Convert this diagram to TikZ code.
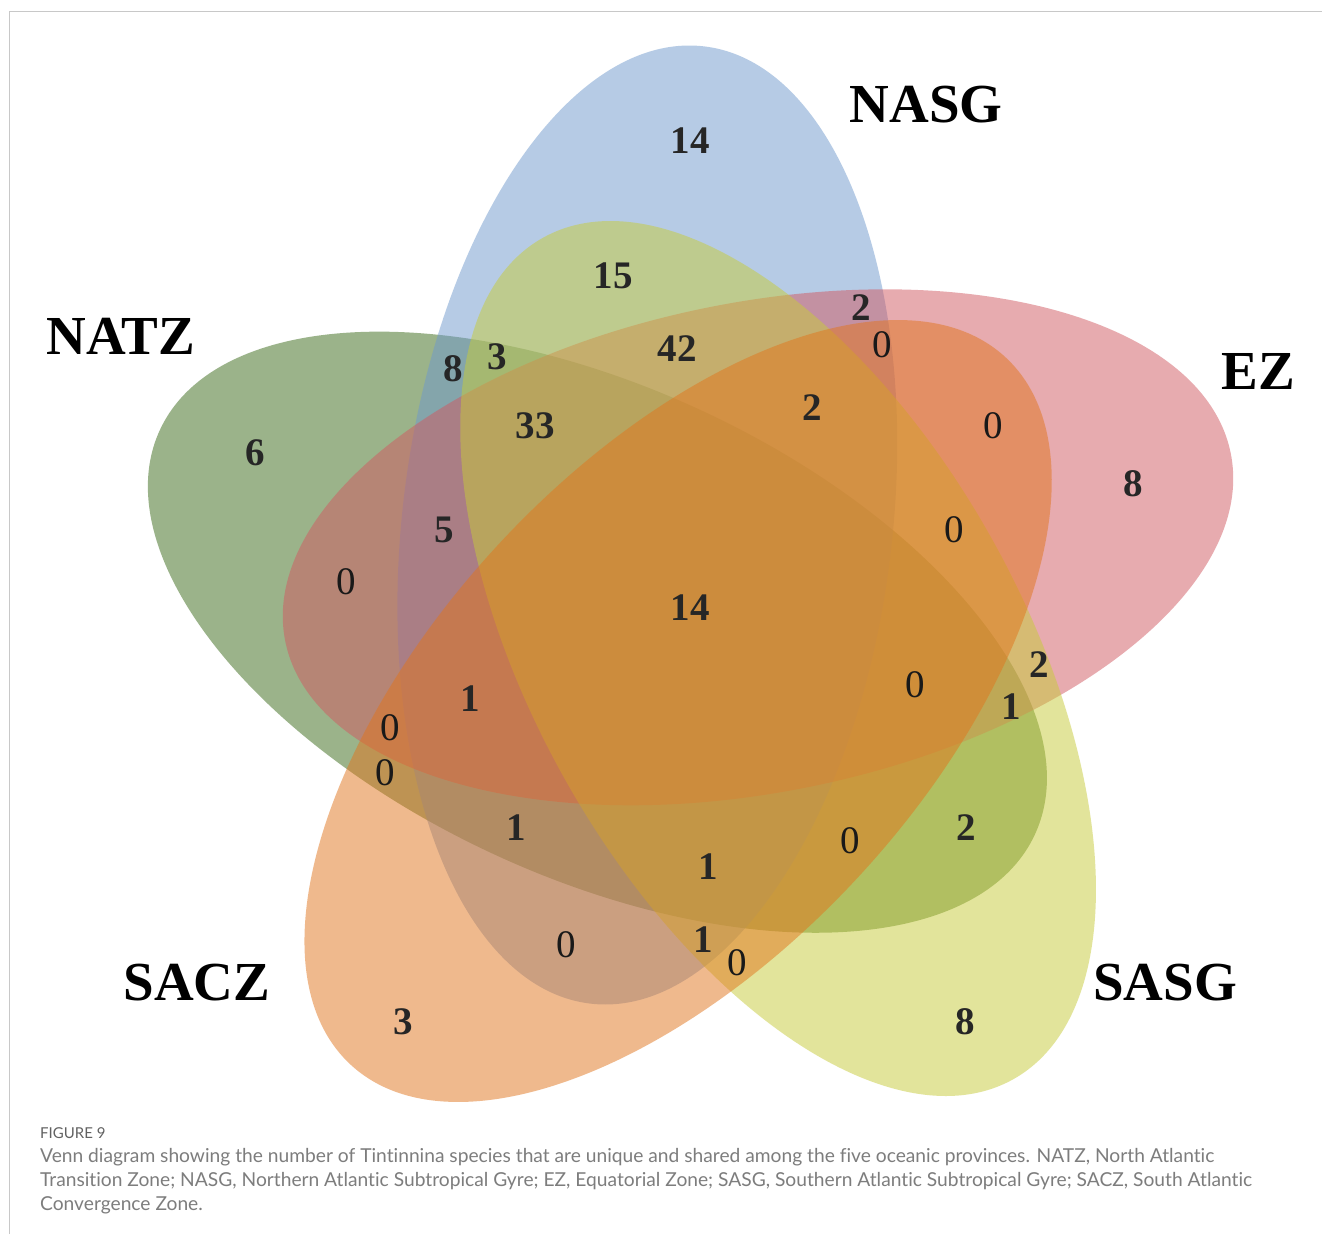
\documentclass[tikz,border=0pt]{standalone}
\usepackage{fontspec}
\setmainfont{Liberation Serif}
\newfontfamily\myCapFont[Ligatures=NoCommon]{Lato}
\definecolor{cgreen}{RGB}{56,104,22}
\definecolor{cblue}{RGB}{111,153,205}
\definecolor{cred}{RGB}{209,89,97}
\definecolor{cyellow}{RGB}{199,203,57}
\definecolor{corange}{RGB}{225,117,29}
\definecolor{framegray}{RGB}{200,200,200}
\definecolor{captgray}{RGB}{125,125,125}
\begin{document}
\begin{tikzpicture}[x=1pt,y=-1pt,
  setfill/.style={fill opacity=0.5},
  num/.style={font=\bfseries\fontsize{39}{39}\selectfont, inner sep=0pt, text=black!85},
  zero/.style={font=\fontsize{39}{39}\selectfont, inner sep=0pt, text=black!90},
  setlabel/.style={font=\bfseries\fontsize{55}{55}\selectfont, inner sep=0pt},
  captxt/.style={font=\myCapFont\fontsize{19.2}{24}\selectfont, text=captgray, anchor=base west, inner sep=0pt}]
\useasboundingbox (0,0) rectangle (1322,1234);
\fill[white] (0,0) rectangle (1322,1234);
\draw[framegray, line width=1pt] (9,1234) -- (9,11) -- (1322,11);
% ellipses (order: NATZ, NASG, EZ, SASG, SACZ)
\fill[cgreen, setfill, shift={(597.4,632.2)}, rotate=155.2] (0,0) ellipse [x radius=482pt, y radius=245pt];
\fill[cblue, setfill, shift={(647.3,525)}, rotate=83.2] (0,0) ellipse [x radius=482pt, y radius=245pt];
\fill[cred, setfill, shift={(758,547.3)}, rotate=11.2] (0,0) ellipse [x radius=482pt, y radius=245pt];
\fill[cyellow, setfill, shift={(778.1,658.5)}, rotate=-60.8] (0,0) ellipse [x radius=482pt, y radius=245pt];
\fill[corange, setfill, shift={(678.1,711)}, rotate=-132.8] (0,0) ellipse [x radius=482pt, y radius=245pt];
% set labels
\node[setlabel] (lNASG) at (926,105) {NASG};
\node[setlabel] (lNATZ) at (121,336) {NATZ};
\node[setlabel] (lEZ) at (1258,371) {EZ};
\node[setlabel] (lSACZ) at (197,983) {SACZ};
\node[setlabel] (lSASG) at (1165,983) {SASG};
% counts
\node[num] (c01) at (690,141) {14};
\node[num] (c02) at (613,276) {15};
\node[num] (c03) at (861,308) {2};
\node[zero] (c04) at (882,345) {0};
\node[num] (c05) at (677,349) {42};
\node[num] (c06) at (453,369) {8};
\node[num] (c07) at (497,357) {3};
\node[num] (c08) at (535,426) {33};
\node[num] (c09) at (812,408) {2};
\node[zero] (c10) at (993,426) {0};
\node[num] (c11) at (1133,484) {8};
\node[num] (c12) at (255,453) {6};
\node[num] (c13) at (444,530) {5};
\node[zero] (c14) at (954,530) {0};
\node[zero] (c15) at (346,582) {0};
\node[num] (c16) at (690,608) {14};
\node[num] (c17) at (1039,665) {2};
\node[zero] (c18) at (915,685) {0};
\node[num] (c19) at (1011,707) {1};
\node[num] (c20) at (470,699) {1};
\node[zero] (c21) at (390,728) {0};
\node[zero] (c22) at (385,773) {0};
\node[num] (c23) at (516,828) {1};
\node[num] (c24) at (966,828) {2};
\node[zero] (c25) at (850,841) {0};
\node[num] (c26) at (708,867) {1};
\node[zero] (c27) at (566,945) {0};
\node[num] (c28) at (703,940) {1};
\node[zero] (c29) at (737,963) {0};
\node[num] (c30) at (403,1022) {3};
\node[num] (c31) at (965,1022) {8};
% caption
\node[captxt, font=\myCapFont\fontsize{15}{15}\selectfont, text=black!62] (figno) at (40,1138) {FIGURE 9};
\node[captxt] (cap1) at (40,1162) {Venn diagram showing the number of Tintinnina species that are unique and shared among the five oceanic provinces. NATZ, North Atlantic};
\node[captxt] (cap2) at (40,1186) {Transition Zone; NASG, Northern Atlantic Subtropical Gyre; EZ, Equatorial Zone; SASG, Southern Atlantic Subtropical Gyre; SACZ, South Atlantic};
\node[captxt] (cap3) at (40,1210) {Convergence Zone.};
\end{tikzpicture}
\end{document}
